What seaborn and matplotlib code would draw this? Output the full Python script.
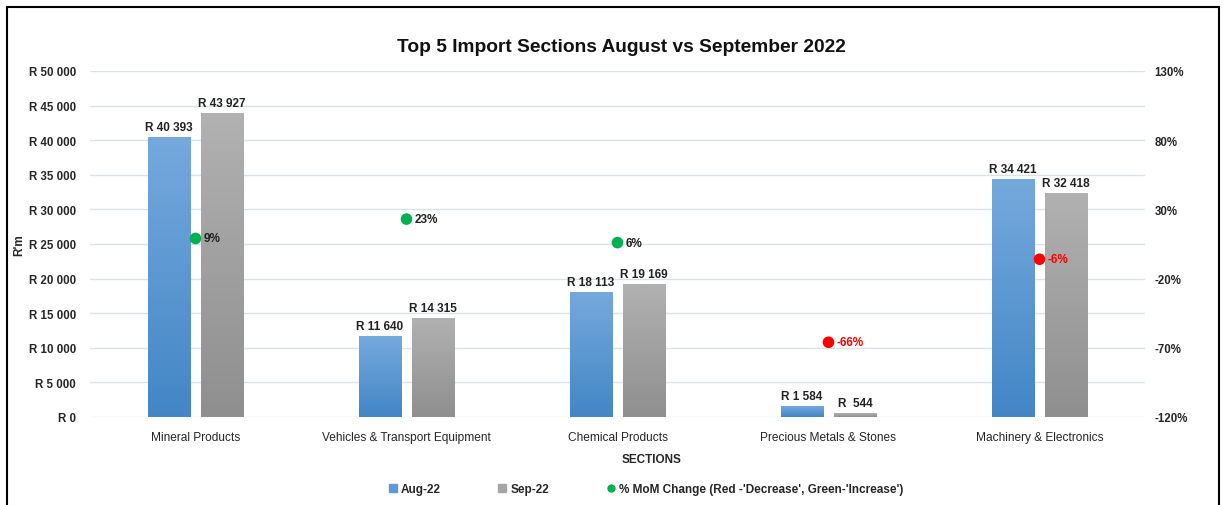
import numpy as np
import pandas as pd
import matplotlib
matplotlib.use("Agg")
import matplotlib.pyplot as plt
import matplotlib.colors as mcolors
from matplotlib.lines import Line2D
from matplotlib.patches import Rectangle
import seaborn as sns

sections = ["Mineral Products", "Vehicles & Transport Equipment", "Chemical Products",
            "Precious Metals & Stones", "Machinery & Electronics"]
aug_22 = [40393, 11640, 18113, 1584, 34421]
sep_22 = [43927, 14315, 19169, 544, 32418]
mom_change = [9, 23, 6, -66, -6]
left_ticks = [0, 5000, 10000, 15000, 20000, 25000, 30000, 35000, 40000, 45000, 50000]
right_ticks = [-120, -70, -20, 30, 80, 130]

sns.set_theme(style="white")
plt.rcParams['font.family'] = ['Liberation Sans Narrow', 'Liberation Sans', 'DejaVu Sans']

def rand(v):
    s = f"{v:,}".replace(",", " ")
    return "R " + s

df = pd.DataFrame({
    "section": sections * 2,
    "month": ["Aug-22"] * 5 + ["Sep-22"] * 5,
    "value": aug_22 + sep_22,
})

fig = plt.figure(figsize=(12.25, 5.06), dpi=100)
ax = fig.add_axes([90 / 1225, 1 - 418 / 506, (1145 - 90) / 1225, (418 - 72) / 506])

blue = "#5b9bd5"
grey = "#a5a5a5"
sns.barplot(data=df, x="section", y="value", hue="month", palette=[blue, grey],
            width=0.506, gap=0.21, ax=ax, legend=False, zorder=2)

# gradient fill on each bar
grads = {blue: ("#75a9dc", "#4386c6"), grey: ("#b1b1b1", "#8f8f8f")}
for i, p in enumerate(ax.patches[:10]):
    col = blue if i < 5 else grey
    top, bot = grads[col]
    cmap = mcolors.LinearSegmentedColormap.from_list("g", [bot, top])
    x0, y0 = p.get_x(), p.get_y()
    w, h = p.get_width(), p.get_height()
    grad = np.linspace(0, 1, 100).reshape(-1, 1)
    im = ax.imshow(grad, extent=[x0, x0 + w, y0, y0 + h], origin="lower", cmap=cmap,
                   aspect="auto", zorder=3)
    im.set_clip_path(p)
    p.set_edgecolor("white")
    p.set_linewidth(0.6)

for i in range(5):
    ax.text(i - 0.1265, aug_22[i] + 600, rand(aug_22[i]), ha="center", va="bottom",
            fontsize=8.5, fontweight="bold", color="#222222")
    lbl = rand(sep_22[i]) if sep_22[i] >= 1000 else "R  " + str(sep_22[i])
    ax.text(i + 0.1265, sep_22[i] + 600, lbl, ha="center", va="bottom",
            fontsize=8.5, fontweight="bold", color="#222222")

ax.set_xlim(-0.5, 4.5)
ax.set_ylim(0, 50000)
ax.set_yticks(left_ticks)
ax.set_yticklabels([rand(t) for t in left_ticks], fontsize=8.3, fontweight="bold")
ax.tick_params(axis="x", labelsize=8.6, length=0, pad=10)
ax.tick_params(axis="y", length=0, pad=10)
ax.grid(axis="y", color="#d9e1ea", linewidth=1, zorder=0)
ax.set_axisbelow(True)
for s in ax.spines.values():
    s.set_visible(False)
ax.set_xlabel("SECTIONS", fontsize=8.5, fontweight="bold")
ax.xaxis.set_label_coords((652 - 90) / 1055, -0.105)
ax.set_ylabel("R'm", fontsize=8.5, fontweight="bold")
ax.yaxis.set_label_coords(-0.061, 0.5)

ax2 = ax.twinx()
ax2.set_ylim(-120, 130)
ax2.set_yticks(right_ticks)
ax2.set_yticklabels([f"{t}%" for t in right_ticks], fontsize=8.3, fontweight="bold")
ax2.tick_params(axis="y", length=0, pad=7)
for s in ax2.spines.values():
    s.set_visible(False)

dots = pd.DataFrame({"x": np.arange(5), "pct": mom_change,
                     "kind": ["up" if v > 0 else "down" for v in mom_change]})
sns.scatterplot(data=dots, x="x", y="pct", hue="kind",
                palette={"up": "#00b050", "down": "#ff0000"}, s=70,
                edgecolor="none", ax=ax2, legend=False, zorder=5)
for i, v in enumerate(mom_change):
    ax2.text(i + 0.04, v, f"{v}%", ha="left", va="center", fontsize=8.5,
             fontweight="bold", color="#222222" if v > 0 else "#ff0000", zorder=6)
ax2.set_ylabel("")
ax2.set_xlabel("")

fig.suptitle("Top 5 Import Sections August vs September 2022", x=621.5 / 1225,
             y=1 - 48 / 506, va="center", fontsize=13.8, fontweight="bold", color="#111111")

handles = [
    Line2D([], [], marker="s", linestyle="none", color=blue, markersize=6),
    Line2D([], [], marker="s", linestyle="none", color=grey, markersize=6),
    Line2D([], [], marker="o", linestyle="none", color="#00b050", markersize=5),
]
fig.legend(handles, ["Aug-22", "Sep-22", "% MoM Change (Red -'Decrease', Green-'Increase')"],
           loc="center left", bbox_to_anchor=(375 / 1225, 1 - 490 / 506), ncol=3, frameon=False,
           handletextpad=0.1, columnspacing=4.6, handlelength=1.2,
           prop={"weight": "bold", "size": 8.5})

fig.patches.append(Rectangle((7 / 1225, -0.01), (1219 - 7) / 1225, 1 - 8 / 506 + 0.01,
                             transform=fig.transFigure, fill=False, edgecolor="black",
                             linewidth=1.5))

fig.savefig("out.png", dpi=100)
